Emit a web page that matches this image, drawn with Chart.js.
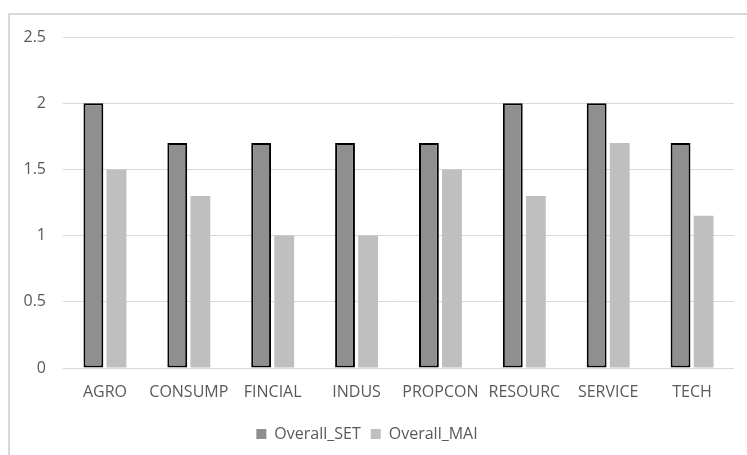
<!DOCTYPE html>
<html>
<head>
<meta charset="utf-8">
<script src="https://cdn.jsdelivr.net/npm/chart.js@4/dist/chart.umd.min.js"></script>
<style>
  html, body { margin: 0; padding: 0; background: #fff; overflow: hidden; }
  #frame {
    position: absolute; left: 8px; top: 13px; width: 800px; height: 500px;
    border-top: 2px solid #d9d9d9; border-left: 2px solid #d9d9d9;
  }
  #wrap { position: absolute; left: 0; top: 0; width: 747px; height: 455px; }
</style>
</head>
<body>
<div id="frame"></div>
<div id="wrap"><canvas id="chart"></canvas></div>
<script>
  // sector names along the x axis
  const categories = ['AGRO', 'CONSUMP', 'FINCIAL', 'INDUS', 'PROPCON', 'RESOURC', 'SERVICE', 'TECH'];
  const overallSet = [2, 1.7, 1.7, 1.7, 1.7, 2, 2, 1.7];
  const overallMai = [1.5, 1.3, 1, 1, 1.5, 1.3, 1.7, 1.15];
  const yTicks = [0, 0.5, 1, 1.5, 2, 2.5];

  const textColor = '#595959';
  const gridColor = '#d9d9d9';
  const font = { family: "'Open Sans', 'Noto Sans', sans-serif", size: 16 };

  const ctx = document.getElementById('chart').getContext('2d');
  new Chart(ctx, {
    type: 'bar',
    data: {
      labels: categories,
      datasets: [{
        label: 'Overall_SET',
        data: overallSet,
        backgroundColor: '#8f8f8f',
        borderColor: '#000000',
        borderWidth: 2,
        borderSkipped: false,
        categoryPercentage: 0.55,
        barPercentage: 0.86
      }, {
        label: 'Overall_MAI',
        data: overallMai,
        backgroundColor: '#bfbfbf',
        borderWidth: 0,
        categoryPercentage: 0.55,
        barPercentage: 0.86
      }]
    },
    options: {
      responsive: true,
      maintainAspectRatio: false,
      animation: false,
      layout: { padding: { left: 0, right: 13, top: 37, bottom: 3 } },
      plugins: {
        tooltip: { enabled: false },
        legend: {
          position: 'bottom',
          labels: {
            color: textColor,
            font: font,
            boxWidth: 10,
            boxHeight: 10,
            padding: 10,
            // plain filled squares, no outline
            generateLabels: function (chart) {
              return chart.data.datasets.map((ds, i) => ({
                text: ds.label,
                fillStyle: ds.backgroundColor,
                strokeStyle: ds.backgroundColor,
                lineWidth: 0,
                fontColor: textColor,
                datasetIndex: i
              }));
            }
          }
        }
      },
      scales: {
        x: {
          grid: { display: false, drawTicks: false },
          border: { display: false },
          afterFit: function (scale) { scale.height = 48; },
          ticks: { color: textColor, font: font, padding: 15, maxRotation: 0, autoSkip: false }
        },
        y: {
          min: 0,
          max: 2.5,
          afterBuildTicks: function (scale) {
            scale.ticks = yTicks.map(v => ({ value: v }));
          },
          afterFit: function (scale) { scale.width = 63; },
          grid: { color: gridColor, lineWidth: 1, drawTicks: false },
          border: { display: false },
          ticks: {
            color: textColor,
            font: font,
            padding: 17,
            callback: function (value) { return String(value); }
          }
        }
      }
    }
  });
</script>
</body>
</html>
